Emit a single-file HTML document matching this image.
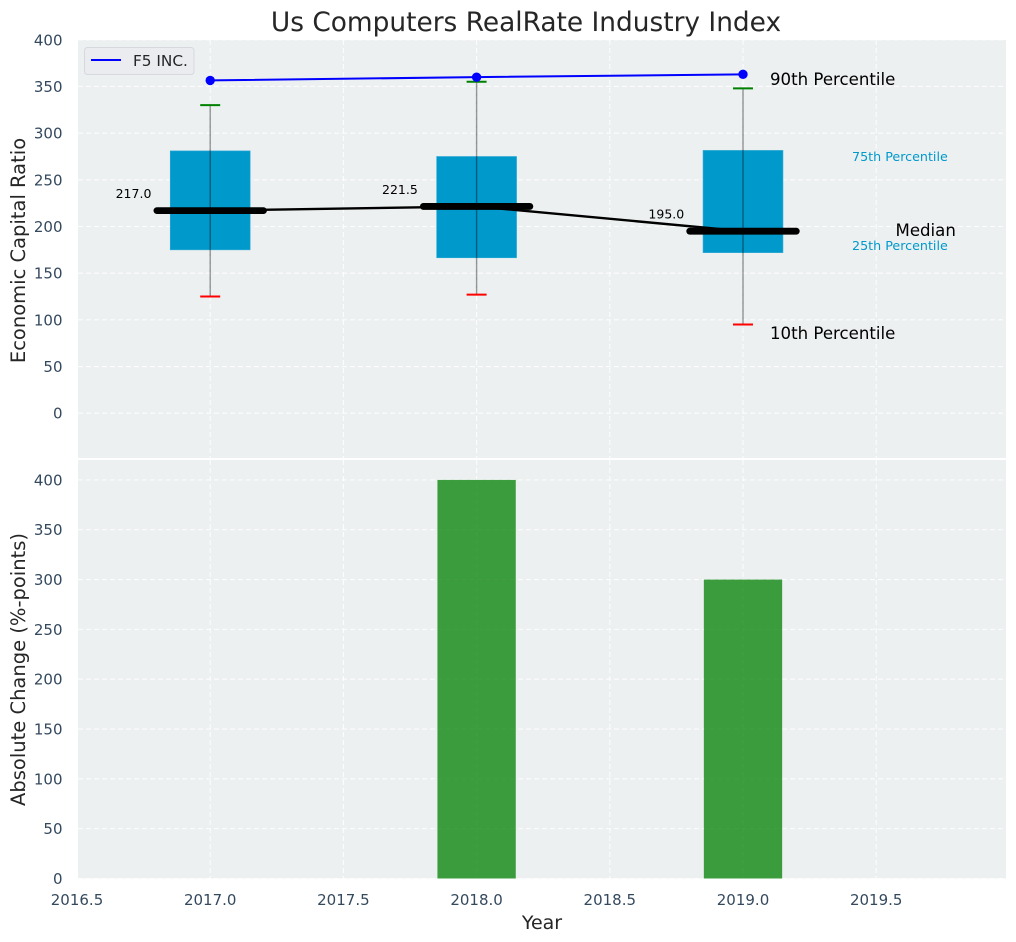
<!DOCTYPE html>
<html>
<head>
<meta charset="utf-8">
<style>
html,body{margin:0;padding:0;background:#fff;}
svg{display:block;font-family:"DejaVu Sans","Liberation Sans",sans-serif;}
</style>
</head>
<body>
<svg id="chart" width="1016" height="942" viewBox="0 0 1016 942" xmlns="http://www.w3.org/2000/svg"></svg>
<script>
const years = [2017, 2018, 2019];
const p90 = [356.5, 360, 363];
const whiskerHigh = [330, 355, 348];
const q3 = [281, 275, 281.5];
const q1 = [175, 166.5, 172];
const whiskerLow = [125, 127, 95];
const medians = [217, 221.5, 195];
const medianLabels = ['217.0', '221.5', '195.0'];
const absChange = [0, 400, 300];
const xTicks = [2016.5, 2017, 2017.5, 2018, 2018.5, 2019, 2019.5];
const xTickLabels = ['2016.5', '2017.0', '2017.5', '2018.0', '2018.5', '2019.0', '2019.5'];
const topTicks = [0, 50, 100, 150, 200, 250, 300, 350, 400];
const bottomTicks = [0, 50, 100, 150, 200, 250, 300, 350, 400];

const svg = document.getElementById('chart');
const NS = 'http://www.w3.org/2000/svg';
const L = 78, R = 1006;
const T1 = 40, B1 = 458, T2 = 460, B2 = 878.5;

function X(v) { return 210.2 + (v - 2017) * 266.4; }
function Y1(v) { return 413.2 - v * 0.9335; }
function Y2(v) { return 878.5 - v * 0.9965; }

function add(tag, attrs, text) {
  const el = document.createElementNS(NS, tag);
  for (const k in attrs) el.setAttribute(k, attrs[k]);
  if (text !== undefined) el.textContent = text;
  svg.appendChild(el);
  return el;
}
function name(el, n, inter) {
  
  
  return el;
}
const tickColor = '#34495e';
const gridStyle = {stroke: '#ffffff', 'stroke-width': 1.1, 'stroke-dasharray': '5 3', opacity: 0.85};

let e;
e = add('rect', {x: L, y: T1, width: R - L, height: B1 - T1, fill: '#ecf0f1'});
name(e, 'top-plot-background', false);
e = add('rect', {x: L, y: T2, width: R - L, height: B2 - T2, fill: '#ecf0f1'});
name(e, 'bottom-plot-background', false);

xTicks.forEach(function (t, i) {
  e = add('line', Object.assign({x1: X(t), x2: X(t), y1: T1, y2: B1}, gridStyle));
  name(e, 'top-x-gridline', false);
  e = add('line', Object.assign({x1: X(t), x2: X(t), y1: T2, y2: B2}, gridStyle));
  name(e, 'bottom-x-gridline', false);
  e = add('text', {x: X(t), y: 905, 'text-anchor': 'middle', 'font-size': 15, fill: tickColor}, xTickLabels[i]);
  name(e, 'x-tick-label', false);
});
topTicks.forEach(function (t) {
  e = add('line', Object.assign({x1: L, x2: R, y1: Y1(t), y2: Y1(t)}, gridStyle));
  name(e, 'top-y-gridline', false);
  e = add('text', {x: 62.5, y: Y1(t) + 5.5, 'text-anchor': 'end', 'font-size': 15, fill: tickColor}, String(t));
  name(e, 'top-y-tick-label', false);
});
bottomTicks.forEach(function (t) {
  e = add('line', Object.assign({x1: L, x2: R, y1: Y2(t), y2: Y2(t)}, gridStyle));
  name(e, 'bottom-y-gridline', false);
  e = add('text', {x: 62.5, y: Y2(t) + 5.5, 'text-anchor': 'end', 'font-size': 15, fill: tickColor}, String(t));
  name(e, 'bottom-y-tick-label', false);
});

/* boxes */
years.forEach(function (y, i) {
  e = add('rect', {x: X(y - 0.15), y: Y1(q3[i]), width: X(y + 0.15) - X(y - 0.15), height: Y1(q1[i]) - Y1(q3[i]), fill: '#0099cc', stroke: '#33aad6', 'stroke-width': 0.6});
  name(e, 'iqr-box-' + y, false);
});

/* median connecting line */
e = add('polyline', {points: years.map(function (y, i) { return X(y) + ',' + Y1(medians[i]); }).join(' '), fill: 'none', stroke: '#000', 'stroke-width': 2.4});
name(e, 'median-line', false);

/* whiskers, caps and medians */
years.forEach(function (y, i) {
  e = add('line', {x1: X(y), x2: X(y), y1: Y1(whiskerHigh[i]), y2: Y1(whiskerLow[i]), stroke: '#000', 'stroke-width': 1.4, opacity: 0.4});
  name(e, 'whisker-' + y, false);
  e = add('line', {x1: X(y - 0.0375), x2: X(y + 0.0375), y1: Y1(whiskerHigh[i]), y2: Y1(whiskerHigh[i]), stroke: '#008000', 'stroke-width': 2});
  name(e, 'upper-cap-' + y, false);
  e = add('line', {x1: X(y - 0.0375), x2: X(y + 0.0375), y1: Y1(whiskerLow[i]), y2: Y1(whiskerLow[i]), stroke: '#ff0000', 'stroke-width': 2});
  name(e, 'lower-cap-' + y, false);
  e = add('line', {x1: X(y - 0.2), x2: X(y + 0.2), y1: Y1(medians[i]), y2: Y1(medians[i]), stroke: '#000', 'stroke-width': 6.8, 'stroke-linecap': 'round'});
  name(e, 'median-bar-' + y, false);
  e = add('text', {x: X(y - 0.2) - 5.5, y: Y1(medians[i]) - 12.5, 'text-anchor': 'end', 'font-size': 12.5, fill: '#000'}, medianLabels[i]);
  name(e, 'median-value-label-' + y, false);
});

/* 90th percentile series */
e = add('polyline', {points: years.map(function (y, i) { return X(y) + ',' + Y1(p90[i]); }).join(' '), fill: 'none', stroke: '#0000ff', 'stroke-width': 2});
name(e, 'f5-inc-line', false);
years.forEach(function (y, i) {
  e = add('circle', {cx: X(y), cy: Y1(p90[i]), r: 4.7, fill: '#0000ff'});
  name(e, 'f5-inc-point-' + y, false);
});

/* percentile annotations */
e = add('text', {x: 770, y: 85, 'font-size': 16.6, fill: '#000'}, '90th Percentile');
name(e, 'label-90th-percentile', false);
e = add('text', {x: 770, y: 339, 'font-size': 16.6, fill: '#000'}, '10th Percentile');
name(e, 'label-10th-percentile', false);
e = add('text', {x: 895.5, y: 236, 'font-size': 16.6, fill: '#000'}, 'Median');
name(e, 'label-median', false);
e = add('text', {x: 852, y: 161, 'font-size': 12.7, fill: '#0099cc'}, '75th Percentile');
name(e, 'label-75th-percentile', false);
e = add('text', {x: 852, y: 250, 'font-size': 12.7, fill: '#0099cc'}, '25th Percentile');
name(e, 'label-25th-percentile', false);

/* bars */
years.forEach(function (y, i) {
  if (absChange[i] <= 0) return;
  e = add('rect', {x: X(y - 0.147), y: Y2(absChange[i]), width: X(y + 0.147) - X(y - 0.147), height: Y2(0) - Y2(absChange[i]), fill: '#008000', 'fill-opacity': 0.75});
  name(e, 'change-bar-' + y, false);
});

/* legend */
e = add('rect', {x: 84.5, y: 47.5, width: 109.5, height: 27, rx: 3, fill: '#eaecf0', stroke: '#d6d8de', 'stroke-width': 1});
name(e, 'legend-box', false);
e = add('line', {x1: 91, x2: 121, y1: 60, y2: 60, stroke: '#0000ff', 'stroke-width': 2});
name(e, 'legend-line-swatch', false);
e = add('text', {x: 133, y: 66, 'font-size': 15.3, fill: '#262626'}, 'F5 INC.');
name(e, 'legend-entry', false);

/* titles */
e = add('text', {x: 526, y: 31, 'text-anchor': 'middle', 'font-size': 26.4, fill: '#262626'}, 'Us Computers RealRate Industry Index');
name(e, 'chart-title', false);
e = add('text', {x: 542, y: 929, 'text-anchor': 'middle', 'font-size': 19, fill: '#262626'}, 'Year');
name(e, 'x-axis-title', false);
e = add('text', {transform: 'translate(25,250.5) rotate(-90)', 'text-anchor': 'middle', 'font-size': 19.5, fill: '#262626'}, 'Economic Capital Ratio');
name(e, 'top-y-axis-title', false);
e = add('text', {transform: 'translate(25,669.5) rotate(-90)', 'text-anchor': 'middle', 'font-size': 19.5, fill: '#262626'}, 'Absolute Change (%-points)');
name(e, 'bottom-y-axis-title', false);
</script>
</body>
</html>
